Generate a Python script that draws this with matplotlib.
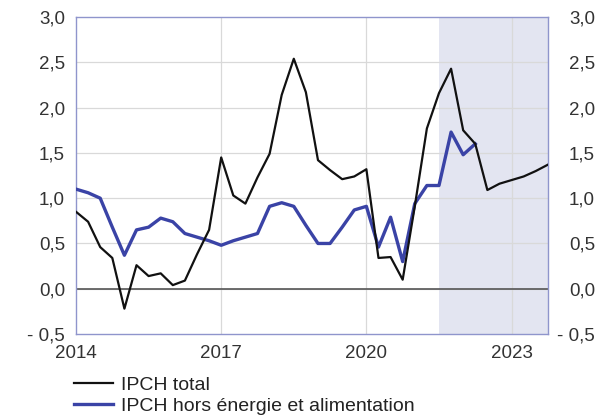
import numpy as np
import matplotlib.pyplot as plt
from matplotlib.transforms import ScaledTranslation

plt.rcParams['font.family'] = ['Liberation Sans', 'DejaVu Sans']

# quarterly values, 2014 Q1 .. 2023 Q4
total = [0.85, 0.74, 0.46, 0.34, -0.22, 0.26, 0.14, 0.17, 0.04, 0.09,
         0.38, 0.65, 1.45, 1.03, 0.94, 1.23, 1.49, 2.14, 2.54, 2.17,
         1.42, 1.31, 1.21, 1.24, 1.32, 0.34, 0.35, 0.10, 0.91, 1.77,
         2.16, 2.43, 1.75, 1.60, 1.09, 1.16, 1.20, 1.24, 1.30, 1.37]
core = [1.10, 1.06, 1.00, 0.68, 0.37, 0.65, 0.68, 0.78, 0.74, 0.61,
        0.57, 0.53, 0.48, 0.53, 0.57, 0.61, 0.91, 0.95, 0.91, 0.70,
        0.50, 0.50, 0.68, 0.87, 0.91, 0.46, 0.79, 0.30, 0.94, 1.14,
        1.14, 1.73, 1.48, 1.60]
year_ticks = [2014, 2017, 2020, 2023]
y_ticks = [-0.5, 0.0, 0.5, 1.0, 1.5, 2.0, 2.5, 3.0]
y_labels = ['- 0,5', '0,0', '0,5', '1,0', '1,5', '2,0', '2,5', '3,0']
proj_start = 2021.5

t_total = 2014 + np.arange(len(total)) / 4
t_core = 2014 + np.arange(len(core)) / 4

fig = plt.figure(figsize=(6.12, 4.17), dpi=100)
ax = fig.add_axes([0.1242, 0.199, 0.771, 0.760])

ax.axvspan(proj_start, 2023.75, color='#e3e5f1', lw=0, zorder=0)
for y in y_ticks[1:-1]:
    ax.axhline(y, color='#d9d9d9', lw=0.9, zorder=1)
for x in year_ticks[1:]:
    ax.axvline(x, color='#d9d9d9', lw=0.9, zorder=1)
ax.axhline(0, color='#555555', lw=1.2, zorder=2)

l2, = ax.plot(t_core, core, color='#3a43a6', lw=2.4, zorder=3)
l1, = ax.plot(t_total, total, color='#111111', lw=1.6, zorder=4)

ax.set_xlim(2014, 2023.75)
ax.set_ylim(-0.5, 3.0)
ax.set_xticks(year_ticks)
ax.set_xticklabels([str(y) for y in year_ticks])
ax.set_yticks(y_ticks)
ax.set_yticklabels(y_labels)
ax.tick_params(length=0, labelsize=13.5, colors='#333333')
ax.tick_params(axis='x', pad=8)
ax.tick_params(axis='y', labelleft=True, labelright=True, pad=8)
for s in ax.spines.values():
    s.set_color('#8f95cc')
    s.set_linewidth(1.0)

# right-hand labels are right-aligned, further from the frame
off = ScaledTranslation(26 / 72, 0, fig.dpi_scale_trans)
for t in ax.yaxis.get_major_ticks():
    t.label2.set_horizontalalignment('right')
    t.label2.set_transform(t.label2.get_transform() + off)

fig.legend([l1, l2], ['IPCH total', 'IPCH hors énergie et alimentation'],
           loc='upper left', bbox_to_anchor=(0.093, 0.140), frameon=False,
           fontsize=14, handlelength=2.0, handletextpad=0.42, labelspacing=0.18,
           labelcolor='#222222')

fig.savefig('out.png', dpi=100)
